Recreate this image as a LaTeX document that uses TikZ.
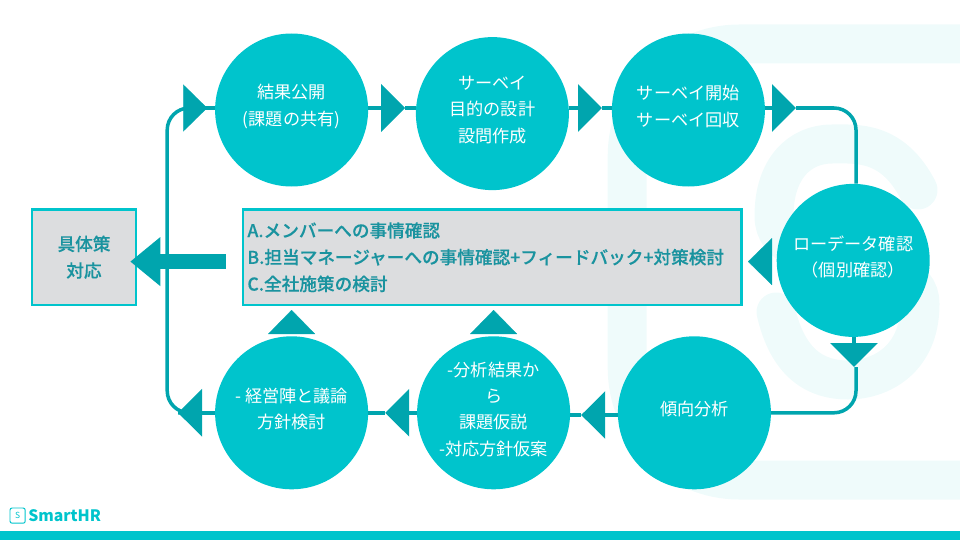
\documentclass[tikz,border=0pt]{standalone}
\usepackage{fontspec}
\setmainfont{Noto Sans CJK JP}
\newfontfamily\boxfont[UprightFont={* Medium}, FakeBold=0.25]{Noto Sans CJK JP}
\usetikzlibrary{arrows.meta, calc}
\definecolor{srteal}{HTML}{00C4CC}
\definecolor{srdark}{HTML}{00A5AE}
\definecolor{srtext}{HTML}{1A939F}
\definecolor{srgray}{HTML}{DCDDDF}
\definecolor{srpale}{HTML}{EFFBFB}

\begin{document}
\begin{tikzpicture}[
	% Define styles
	stepcircle/.style={circle, fill=srteal, inner sep=0pt, minimum size=3.825cm},
	steptext/.style={align=center, text=white, inner sep=0pt, font=\fontsize{12.2}{18.8}\selectfont},
	graybox/.style={rectangle, draw=srteal, line width=1.8pt, fill=srgray, inner sep=0pt, minimum height=2.39cm},
	boxtext/.style={text=srtext, font=\boxfont\fontsize{12.55}{19}\selectfont},
	connector/.style={line width=2.5pt, draw=srdark},
	flow/.style={connector, -{Triangle[length=0.6cm, width=1.175cm]}},
	tiponly/.style={line width=0.1pt, draw=srdark, -{Triangle[length=0.6cm, width=1.175cm]}},
	bigarrow/.style={line width=0.38cm, draw=srdark, -{Triangle[length=0.75cm, width=1.175cm]}},
	watermark/.style={draw=srpale, line width=0.975cm, line cap=round}
	]
	\useasboundingbox (0,0) rectangle (24,13.5);
	
	% Pale logo behind everything
	\begin{scope}
		\clip (0,0) rectangle (24,13.5);
		\draw[watermark, rounded corners=2.8cm] (25,12.4) -- (15.68,12.4) -- (15.68,1.5) -- (25,1.5);
		\draw[watermark] (22.95,8.75) .. controls (22.3,10) and (21.4,9.9) .. (20.8,9.9)
			.. controls (20,9.9) and (19.35,9.3) .. (19.35,8.1)
			.. controls (19.35,6.5) and (23,7.4) .. (23,5.9)
			.. controls (23,4.5) and (22,4) .. (21.2,4)
			.. controls (20.4,4) and (19.7,4.4) .. (19.4,5.7);
	\end{scope}
	
	% Survey cycle
	\node[stepcircle] (kekka) at (7.29,10.75) {};
	\node[stepcircle] (mokuteki) at (12.31,10.66) {};
	\node[stepcircle] (kaishi) at (17.21,10.75) {};
	\node[stepcircle] (rawdata) at (21.33,6.99) {};
	\node[stepcircle] (keiko) at (17.36,3.18) {};
	\node[stepcircle] (kasetsu) at (12.34,3.18) {};
	\node[stepcircle] (keiei) at (7.29,3.18) {};
	
	\node[steptext] (kekkatext) at ([yshift=0.09cm]kekka) {結果公開\\(課題の共有)};
	\node[steptext] (mokutekitext) at ([yshift=0.09cm]mokuteki) {サーベイ\\目的の設計\\設問作成};
	\node[steptext] (kaishitext) at ([yshift=0.09cm]kaishi) {サーベイ開始\\サーベイ回収};
	\node[steptext] (rawdatatext) at ([yshift=0.09cm]rawdata) {ローデータ確認\\（個別確認）};
	\node[steptext] (keikotext) at ([yshift=0.09cm]keiko) {傾向分析};
	\node[steptext] (kasetsutext) at ([yshift=0.09cm]kasetsu) {-分析結果か\\ら\\課題仮説\\-対応方針仮案};
	\node[steptext] (keieitext) at ([yshift=0.09cm]keiei) {- 経営陣と議論\\方針検討};
	
	% Gray boxes
	\node[graybox, minimum width=2.59cm] (taio) at (2.1,7.07) {};
	\node[boxtext, align=center, inner sep=0pt] (taiotext) at (taio) {具体策\\対応};
	\node[graybox, minimum width=12.46cm] (kakunin) at (12.31,7.07) {};
	\node[boxtext, align=left, anchor=west, inner sep=0pt] (kakunintext) at ([xshift=0.13cm]kakunin.west) {A.メンバーへの事情確認\\B.担当マネージャーへの事情確認+フィードバック+対策検討\\C.全社施策の検討};
	
	% Points of the arrowheads and corners
	\coordinate (tipkekka) at (5.18,10.8);
	\coordinate (tipmokuteki) at (10.13,10.8);
	\coordinate (tipkaishi) at (15.05,10.8);
	\coordinate (tipright) at (19.9,10.8);
	\coordinate (tipraw) at (21.35,4.325);
	\coordinate (tipkeiko) at (14.53,3.125);
	\coordinate (tipkasetsu) at (9.63,3.18);
	\coordinate (tipkeiei) at (4.45,3.18);
	\coordinate (tipmain) at (18.7,6.96);
	\coordinate (tipup) at (7.29,5.75);
	\coordinate (tipupb) at (12.34,5.75);
	\coordinate (cornertr) at (21.4,10.8);
	\coordinate (cornerbr) at (21.4,3.18);
	\coordinate (cornertl) at (4.18,10.8);
	\coordinate (cornerbl) at (4.18,3.18);
	
	% Top row
	\draw[tiponly, shorten <=0.4cm] (cornertl) -- (tipkekka);
	\draw[connector] (tipkekka) -- (tipkekka -| kekka.west);
	\draw[flow] (tipmokuteki -| kekka.east) -- (tipmokuteki);
	\draw[connector] (tipmokuteki) -- (tipmokuteki -| mokuteki.west);
	\draw[flow] (tipkaishi -| mokuteki.east) -- (tipkaishi);
	\draw[connector] (tipkaishi) -- (tipkaishi -| kaishi.west);
	\draw[flow] (tipright -| kaishi.east) -- (tipright);
	
	% Right side
	\draw[connector, rounded corners=0.55cm] (tipright) -- (cornertr) -- (cornertr |- rawdata.north);
	\draw[flow] (tipraw |- rawdata.south) -- (tipraw);
	\draw[connector, rounded corners=0.55cm] (cornertr |- tipraw) -- (cornerbr) -- (keiko.east);
	\draw[tiponly, shorten <=0.125cm] (tipmain -| rawdata.west) -- (tipmain);
	
	% Bottom row
	\draw[flow] (tipkeiko -| keiko.west) -- (tipkeiko);
	\draw[connector] (tipkeiko) -- (tipkeiko -| kasetsu.east);
	\draw[flow] (kasetsu.west) -- (tipkasetsu);
	\draw[connector] (tipkasetsu) -- (keiei.east);
	\draw[flow] (keiei.west) -- (tipkeiei);
	\draw[tiponly, shorten <=0.1cm] (keiei.north) -- (tipup);
	\draw[tiponly, shorten <=0.1cm] (kasetsu.north) -- (tipupb);
	
	% Return line on the left
	\draw[connector, rounded corners=0.55cm] (tipkeiei) -- (cornerbl) -- (cornertl) -- (tipkekka);
	
	% Thick arrow into the left box
	\draw[bigarrow, shorten <=0.4cm, shorten >=-0.17cm] ([yshift=-0.11cm]kakunin.west) -- ([yshift=-0.11cm]taio.east);
	
	% Logo and footer
	\fill[srteal] (0,0) rectangle (24,0.225);
	\node[draw=srteal, line width=0.7pt, rounded corners=1.5pt, minimum size=0.38cm, inner sep=0pt, text=srteal, font=\fontsize{6}{6}\selectfont] (logomark) at (0.44,0.61) {S};
	\node[right=0pt, inner sep=0pt, text=srteal, font=\bfseries\fontsize{11.2}{12}\selectfont] (logotext) at (0.7,0.61) {SmartHR};
\end{tikzpicture}
\end{document}
